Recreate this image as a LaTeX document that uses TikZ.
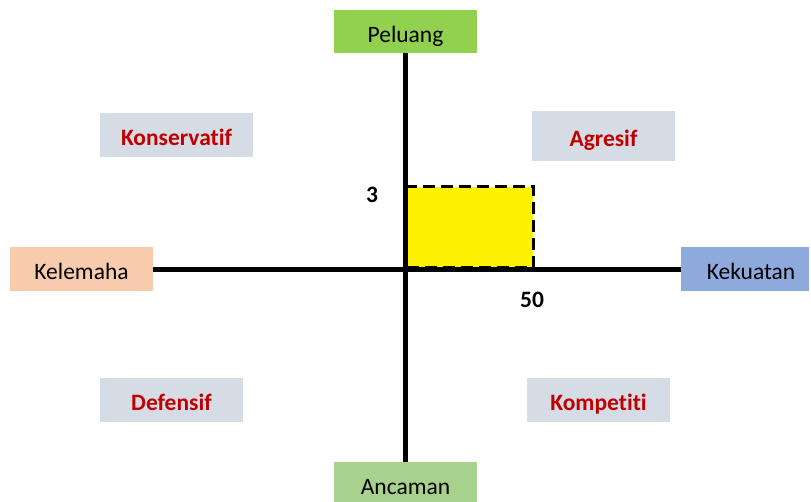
\documentclass[tikz,border=0pt]{standalone}
\usepackage{fontspec}
\setmainfont{Carlito}[Ligatures={NoCommon,NoContextual}]
\definecolor{pelgreen}{HTML}{92D050}
\definecolor{ancgreen}{HTML}{A9D18E}
\definecolor{kelpeach}{HTML}{F8CBAD}
\definecolor{kekblue}{HTML}{8EA9DB}
\definecolor{quadgray}{HTML}{D6DCE5}
\definecolor{quadred}{HTML}{C00000}
\begin{document}
\begin{tikzpicture}[x=1pt,y=-1pt,
  lbl/.style={font=\fontsize{23.5}{27}\selectfont, inner sep=0pt, anchor=center, text height=21pt, text depth=0pt},
  axisbox/.style={lbl, minimum width=143pt, minimum height=44pt},
  quad/.style={lbl, fill=quadgray, text=quadred, font=\fontsize{23.5}{27}\selectfont\bfseries, minimum width=143pt, minimum height=44pt},
  axisline/.style={line width=5pt},
  num/.style={lbl, font=\fontsize{23.5}{27}\selectfont\bfseries},
]
\useasboundingbox (0,0) rectangle (811,501);
% axis end boxes
\node[axisbox, fill=pelgreen, minimum height=43pt] (pel) at (405.5,31.5) {Peluang};
\node[axisbox, fill=ancgreen] (anc) at (405.5,484) {Ancaman};
\node[axisbox, fill=kelpeach] (kel) at (81.5,269) {Kelemaha};
\node[axisbox, fill=kekblue, minimum width=128pt] (kek) at (745,269) {\hspace{12pt}Kekuatan};
% quadrant labels
\node[quad, minimum width=153pt] (kons) at (176.5,135) {Konservatif};
\node[quad, minimum height=50pt] (agr) at (603.5,136) {Agresif};
\node[quad] (def) at (171.5,400) {Defensif};
\node[quad] (komp) at (598.5,400) {Kompetiti};
% yellow area
\node[draw, fill=yellow, line width=3pt, dash pattern=on 12pt off 6pt,
      minimum width=126.5pt, minimum height=81pt, inner sep=0pt, anchor=south west] (area) at (405,269) {};
% axes
\draw[axisline] (kel.east) -- (kek.west);
\draw[axisline] (pel.south) -- (anc.north);
% numbers
\node[num] (n3) at (372,191.5) {3};
\node[num] (n50) at (532,297) {50};
\end{tikzpicture}
\end{document}
